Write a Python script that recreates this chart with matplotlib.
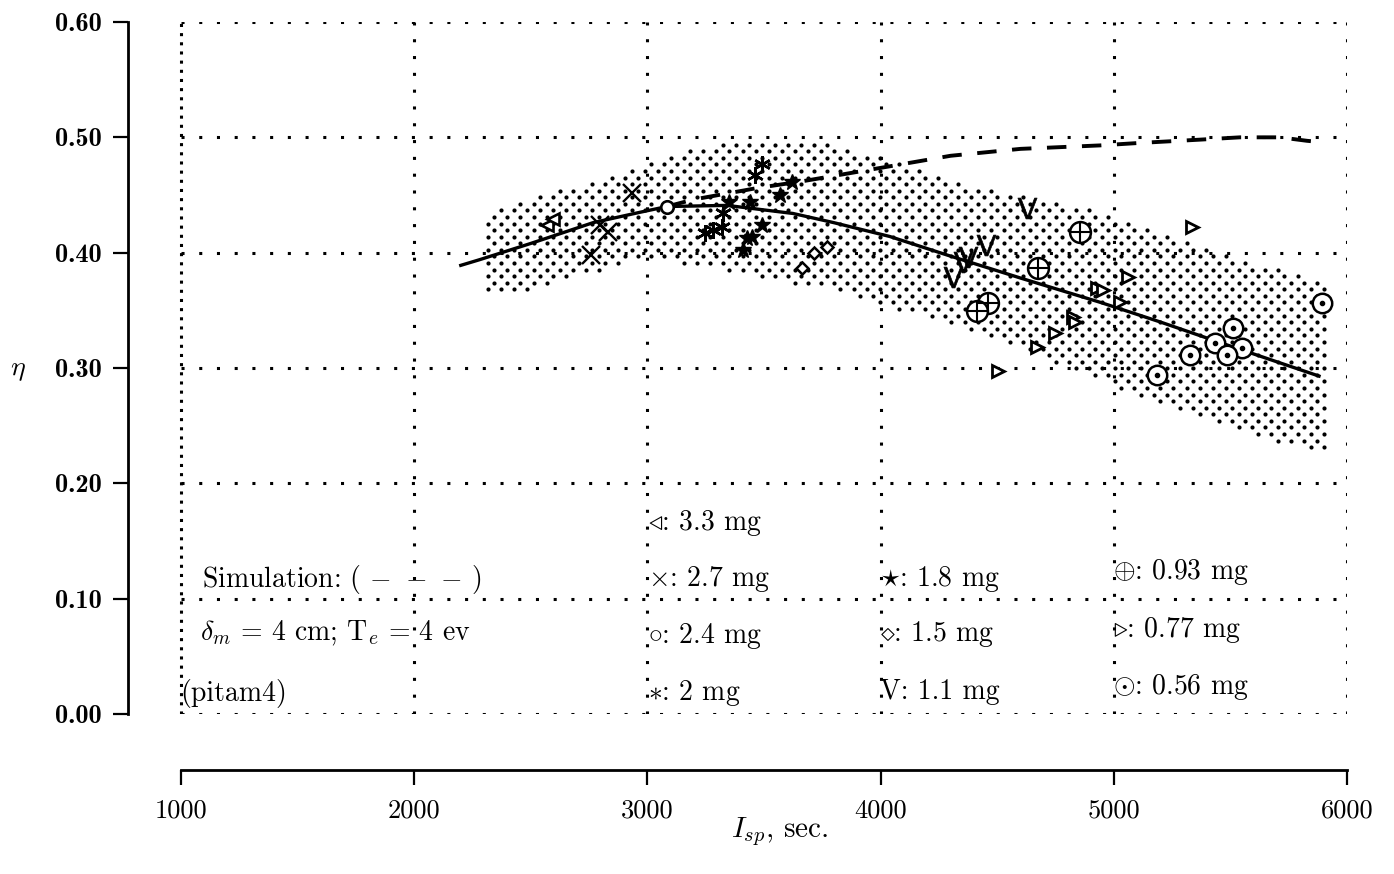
import numpy as np
import matplotlib
matplotlib.use("Agg")
import matplotlib.pyplot as plt

plt.rcParams['font.family'] = ['cmr10', 'DejaVu Serif']
plt.rcParams['mathtext.fontset'] = 'cm'
plt.rcParams['axes.unicode_minus'] = False

# stippled band (experimental scatter envelope)
band_x = [2316, 2500, 2750, 3000, 3250, 3500, 3750, 4000, 4250, 4500, 4750, 5000, 5250, 5500, 5750, 5906]
band_hi = [0.436, 0.446, 0.462, 0.477, 0.492, 0.499, 0.496, 0.482, 0.466, 0.454, 0.444, 0.433, 0.414, 0.397, 0.383, 0.377]
band_lo = [0.363, 0.368, 0.382, 0.395, 0.388, 0.378, 0.370, 0.355, 0.342, 0.325, 0.305, 0.285, 0.266, 0.250, 0.234, 0.225]

# fitted curve (solid)
fit_x = [2200, 2282, 2500, 2767, 2968, 3084, 3341, 3624, 3800, 4040, 4300, 4600, 4941, 5198, 5500, 5880]
fit_y = [0.389, 0.394, 0.408, 0.426, 0.435, 0.440, 0.441, 0.434, 0.426, 0.414, 0.397, 0.378, 0.357, 0.340, 0.319, 0.293]

# simulation (dashed)
sim_x = [3084, 3196, 3470, 3667, 3899, 4100, 4300, 4600, 4941, 5099, 5370, 5541, 5713, 5828, 5880]
sim_y = [0.440, 0.446, 0.456, 0.462, 0.470, 0.477, 0.484, 0.490, 0.493, 0.495, 0.498, 0.500, 0.500, 0.497, 0.496]

# measurements by propellant mass
m33_x = [2570, 2595]
m33_y = [0.424, 0.429]
m27_x = [2934, 2797, 2831, 2758]
m27_y = [0.452, 0.424, 0.418, 0.398]
m24_x = [3084]
m24_y = [0.440]
m20_x = [3491, 3461, 3324, 3247, 3281, 3320]
m20_y = [0.477, 0.467, 0.434, 0.417, 0.420, 0.422]
m18_x = [3620, 3569, 3440, 3350, 3491, 3427, 3448, 3410]
m18_y = [0.461, 0.450, 0.444, 0.444, 0.424, 0.413, 0.414, 0.402]
m15_x = [3663, 3714, 3770]
m15_y = [0.387, 0.400, 0.405]
m11_x = [4628, 4452, 4375, 4353, 4310]
m11_y = [0.439, 0.407, 0.396, 0.392, 0.379]
m093_x = [4855, 4675, 4461, 4413]
m093_y = [0.418, 0.387, 0.356, 0.349]
m077_x = [5335, 5061, 4928, 4954, 5027, 4825, 4834, 4748, 4671, 4503]
m077_y = [0.422, 0.379, 0.369, 0.368, 0.357, 0.344, 0.340, 0.330, 0.318, 0.297]
m056_x = [5893, 5511, 5434, 5550, 5485, 5327, 5185]
m056_y = [0.356, 0.335, 0.322, 0.317, 0.311, 0.311, 0.294]

xticks = [1000, 2000, 3000, 4000, 5000, 6000]
yticks = [0.0, 0.1, 0.2, 0.3, 0.4, 0.5, 0.6]
ytick_labels = ["0.00", "0.10", "0.20", "0.30", "0.40", "0.50", "0.60"]

legend_labels = [r"$\triangleleft$: 3.3 mg", r"$\times$: 2.7 mg", r"$\circ$: 2.4 mg", r"$\ast$: 2 mg",
                 r"$\star$: 1.8 mg", r"$\diamond$: 1.5 mg", "V: 1.1 mg",
                 r"$\oplus$: 0.93 mg", r"$\triangleright$: 0.77 mg", r"$\odot$: 0.56 mg"]

fig = plt.figure(figsize=(13.94, 8.74), dpi=100)
ax = fig.add_axes([128 / 1394, 160 / 874, 1219 / 1394, 692 / 874])
ax.set_xlim(773, 6000)
ax.set_ylim(0, 0.6)

# dotted grid
for xv in xticks:
    ax.plot([xv, xv], [0, 0.6], color='black', lw=2.2,
            ls=(0, (1, 4.5)) if xv != 1000 else (0, (1, 2.0)))
for yv in yticks:
    ax.plot([1000, 6000], [yv, yv], color='black', lw=2.2, ls=(0, (1, 4.8)))

# stipple texture inside the band
sx, sy = [], []
for i, yv in enumerate(np.arange(0.22, 0.51, 0.0057)):
    xs = np.arange(band_x[0] + (28 if i % 2 else 0), band_x[-1], 56)
    lo = np.interp(xs, band_x, band_lo)
    hi = np.interp(xs, band_x, band_hi)
    keep = (yv >= lo) & (yv <= hi)
    sx.extend(xs[keep])
    sy.extend([yv] * int(keep.sum()))
ax.plot(sx, sy, linestyle='none', marker='o', ms=3.0, color='black', mew=0)

ax.plot(fit_x, fit_y, color='black', lw=2.4)
ax.plot(sim_x, sim_y, color='black', lw=2.8, dashes=(5, 4))

k = dict(linestyle='none', color='black')
ax.plot(m33_x, m33_y, marker='<', ms=9, mfc='white', mew=1.9, **k)
ax.plot(m27_x, m27_y, marker='x', ms=13, mew=1.7, **k)
ax.plot(m24_x, m24_y, marker='o', ms=9, mfc='white', mew=1.9, **k)
ax.plot(m20_x, m20_y, marker=(6, 2, 0), ms=12, mew=1.8, **k)
ax.plot(m18_x, m18_y, marker='*', ms=12, **k)
ax.plot(m15_x, m15_y, marker='D', ms=6.5, mfc='white', mew=1.8, **k)
ax.plot(m11_x, m11_y, marker=r'$\mathsf{V}$', ms=15, mew=0.5, **k)
ax.plot(m093_x, m093_y, marker='o', ms=15, mfc='white', mew=1.8, **k)
ax.plot(m093_x, m093_y, marker='+', ms=15, mew=1.5, **k)
ax.plot(m077_x, m077_y, marker='>', ms=8.5, mfc='white', mew=2.0, **k)
ax.plot(m056_x, m056_y, marker='o', ms=14, mfc='white', mew=1.8, **k)
ax.plot(m056_x, m056_y, marker='o', ms=3, **k)

# legend block as text
txt = dict(fontsize=20, va='center', ha='left')
leg_pos = [(3003, 0.166), (3003, 0.117), (3003, 0.068), (3003, 0.018),
           (3997, 0.117), (3997, 0.069), (3997, 0.019),
           (4997, 0.123), (4997, 0.073), (4997, 0.023)]
for (px, py), lab in zip(leg_pos, legend_labels):
    ax.text(px, py, lab, **txt)
ax.text(1090, 0.117, r"Simulation: $(\,-\,-\,-\,)$", **txt)
ax.text(1080, 0.070, r"$\delta_m$ = 4 cm; T$_e$ = 4 ev", **txt)
ax.text(996, 0.018, "(pitam4)", **txt)

# axes styling
for s in ['top', 'right']:
    ax.spines[s].set_visible(False)
ax.spines['left'].set_bounds(0, 0.6)
ax.spines['left'].set_linewidth(2)
ax.spines['bottom'].set_position(('outward', 40))
ax.spines['bottom'].set_bounds(1000, 6000)
ax.spines['bottom'].set_linewidth(2)
ax.set_xticks(xticks)
ax.set_xticklabels([str(v) for v in xticks])
ax.set_yticks(yticks)
ax.set_yticklabels(ytick_labels, family='cmb10')
ax.tick_params(axis='both', direction='out', length=11, width=1.6)
ax.tick_params(axis='y', pad=8, labelsize=19)
ax.tick_params(axis='x', pad=10, labelsize=19)

fig.text(18 / 1394, 1 - 370 / 874, r"$\eta$", fontsize=20, ha='center', va='center')
fig.text(780 / 1394, 1 - 832 / 874, r"$I_{sp}$, sec.", fontsize=21, ha='center', va='center')

fig.savefig("out.png", dpi=100)
